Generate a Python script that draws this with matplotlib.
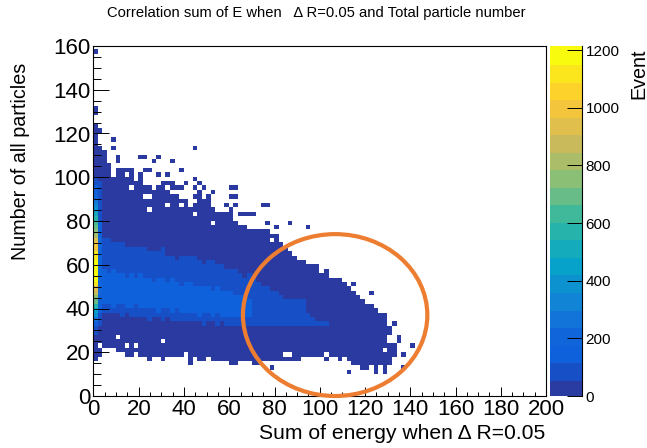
import numpy as np
import matplotlib
matplotlib.use('Agg')
import matplotlib.pyplot as plt
from matplotlib.colors import LinearSegmentedColormap, ListedColormap, BoundaryNorm
from matplotlib.patches import Ellipse

plt.rcParams['font.family'] = ['Liberation Sans', 'DejaVu Sans']

# histogram has 100 x 80 bins of width 2, everything below is in bin numbers
solid_top = [61,56,55,52,49,51,51,51,51,48,50,47,47,46,47,46,46,45,45,44,44,43,45,44,44,43,42,41,41,40,
             40,39,38,38,37,37,37,37,37,36,36,35,33,32,31,30,30,29,28,28,27,27,26,26,25,25,24,23,22,21,
             20,20,19,18,18,14,11]
solid_bottom = [8,9,11,11,11,10,10,9,9,10,9,9,8,9,9,8,9,9,9,9,10,7,9,8,8,9,8,8,8,8,
                7,7,8,8,8,7,7,8,8,8,8,8,8,8,8,8,9,9,9,9,9,8,9,9,8,8,8,7,7,6,
                6,7,5,7,5,7,9]
band_top = [35,35,35,35,34,34,34,33,33,33,33,33,32,32,32,33,31,31,30,31,31,31,31,30,29,30,30,29,29,28,
            28,28,27,26,27,26,25,24,24,23,23,22,21,21,21,21,21,18,17,16,16,16]
band_bottom = [19,19,19,19,19,19,18,19,18,18,18,18,17,18,18,17,18,17,17,17,17,17,17,17,16,17,17,16,17,16,
               16,16,16,16,16,16,16,16,16,16,16,16,16,16,16,16,16,16,16,16,16,16]
core_top = [27,28,28,27,28,27,27,26,27,26,27,26,26,25,26,26,25,26,25,24,25,25,24,24,24,24,23,24,23,23,
            23,22,22,22,21]
core_bottom = [21,21,21,21,20,21,21,20,20,21,20,20,20,20,19,20,20,19,20,19,19,19,19,18,19,19,18,19,18,18,
               18,18,18,18,18]

column0_bins = list(range(8, 51))
column0_values = [30,30,30,30,30,30,90,120,180,260,380,480,580,680,760,880,960,1120,1190,1205,1205,1205,
                  1180,1150,1100,1030,980,920,840,760,700,640,580,500,420,360,280,220,170,130,100,70,30]
column1_bins = list(range(14, 49))
column1_values = [30,50,70,90,90,130,130,150,170,190,200,200,210,210,210,210,210,200,200,200,190,190,170,
                  150,130,130,90,90,90,90,90,90,70,70,70]

extra_cells = [(0,78),(0,65),(0,64),(1,60),(4,58),(4,56),(0,56),(1,56),(5,54),(5,53),(10,54),(11,54),
               (14,54),(13,53),(17,53),(19,51),(11,51),(12,51),(10,50),(14,50),(16,50),(22,56),(22,49),
               (23,48),(20,48),(15,48),(16,48),(17,48),(14,47),(15,47),(17,47),(18,47),(19,47),(22,47),
               (24,47),(30,47),(31,47),(26,46),(30,45),(31,45),(29,43),(31,43),(37,43),(38,43),(30,42),
               (28,41),(29,41),(30,41),(32,41),(33,41),(34,41),(35,41),(23,46),(23,45),(25,44),(25,45),
               (38,39),(40,38),(43,39),(47,38),(44,30),(46,30),(48,29),(49,29),(51,28),(52,26),(54,26),
               (55,25),(57,25),(61,23),(59,21),(66,16),(65,15),(67,13),(67,12),(70,11),(68,9),(62,6),
               (62,5),(56,5),(39,6),(68,6)]
holes = [(7,50),(8,47),(11,45),(12,45),(12,42),(16,43),(19,43),(21,43),(22,41),(26,39),(5,13),(15,12),
         (1,11),(7,11),(9,11),(39,35),(41,35),(42,9),(43,9),(51,9),(55,8),(22,44),(21,45),(64,10),
         (65,12),(65,13),(66,15)]

# ROOT kBird palette stops
bird_colors = [(0.2082,0.1664,0.5293),(0.0592,0.3599,0.8684),(0.0780,0.5041,0.8385),(0.0232,0.6419,0.7914),
               (0.1802,0.7178,0.6425),(0.5301,0.7492,0.4662),(0.8186,0.7328,0.3499),(0.9956,0.7862,0.1968),
               (0.9764,0.9832,0.0539)]
n_levels = 20
z_max = 1214
x_ticks = list(range(0, 201, 20))
y_ticks = list(range(0, 161, 20))
bar_ticks = [0, 200, 400, 600, 800, 1000, 1200]

counts = np.zeros((100, 80))
for i in range(len(solid_top)):
    counts[i, solid_bottom[i]:solid_top[i]+1] = 30
for i in range(len(band_top)):
    counts[i, band_bottom[i]:band_top[i]+1] = 90
for i in range(len(core_top)):
    counts[i, core_bottom[i]:core_top[i]+1] = 150
for i, j in extra_cells:
    counts[i, j] = 30
for i, j in holes:
    counts[i, j] = 0
counts[0, column0_bins] = column0_values
counts[1, column1_bins] = column1_values

bird = LinearSegmentedColormap.from_list('bird', bird_colors)
level_colors = bird(np.linspace(0, 1, n_levels))
level_colors[0] = (0.165, 0.23, 0.63, 1)
level_colors[1] = (0.09, 0.31, 0.78, 1)
level_colors[2] = (0.06, 0.38, 0.86, 1)
cmap = ListedColormap(level_colors)
levels = np.linspace(0, z_max, n_levels + 1)
norm = BoundaryNorm(levels, n_levels)

fig = plt.figure(figsize=(6.47, 4.48), dpi=100)
ax = fig.add_axes([93.5/647, 1-396/448, 452.5/647, 350/448])
img = ax.imshow(np.ma.masked_equal(counts, 0).T, origin='lower', extent=[0, 200, 0, 160], aspect='auto',
                cmap=cmap, norm=norm, interpolation='nearest')
ax.set_xlim(0, 200)
ax.set_ylim(0, 160)
ax.set_xticks(x_ticks)
ax.set_yticks(y_ticks)
ax.set_xticks(np.arange(0, 201, 5), minor=True)
ax.set_yticks(np.arange(0, 161, 5), minor=True)
ax.tick_params(axis='x', which='major', direction='in', length=6.5, width=0.7, labelsize=16, pad=2)
ax.tick_params(axis='x', which='minor', direction='in', length=3.2, width=0.7)
ax.tick_params(axis='y', which='major', direction='in', length=11.2, width=0.7, labelsize=16, pad=2)
ax.tick_params(axis='y', which='minor', direction='in', length=5.8, width=0.7)
for s in ax.spines.values():
    s.set_linewidth(0.8)

ax.add_patch(Ellipse((106.8, 37), 81.5, 74, fill=False, edgecolor='#ed7d31', linewidth=3.0, clip_on=False, zorder=5))

fig.text(316/647, 1-13/448, 'Correlation sum of E when   \u0394 R=0.05 and Total particle number',
         ha='center', va='center', fontsize=10.6)
fig.text(545/647, 1-433/448, 'Sum of energy when \u0394 R=0.05', ha='right', va='center', fontsize=15.2)
fig.text(21/647, 1-161/448, 'Number of all particles', rotation=90, ha='center', va='center', fontsize=14.2)

cax = fig.add_axes([550/647, 1-396/448, 31.5/647, 350/448])
cb = fig.colorbar(img, cax=cax, spacing='proportional', ticks=bar_ticks, drawedges=False)
cb.solids.set_edgecolor('face')
cb.ax.tick_params(direction='in', length=11, width=0.7, labelsize=11, pad=3)
cb.ax.minorticks_off()
cb.outline.set_visible(False)
for s in ['top', 'left', 'bottom']:
    cb.ax.spines[s].set_visible(False)
cb.ax.spines['right'].set_visible(True)
fig.text(639/647, 1-74/448, 'Event', rotation=90, ha='center', va='center', fontsize=14.2)

plt.savefig('out.png', dpi=100)
